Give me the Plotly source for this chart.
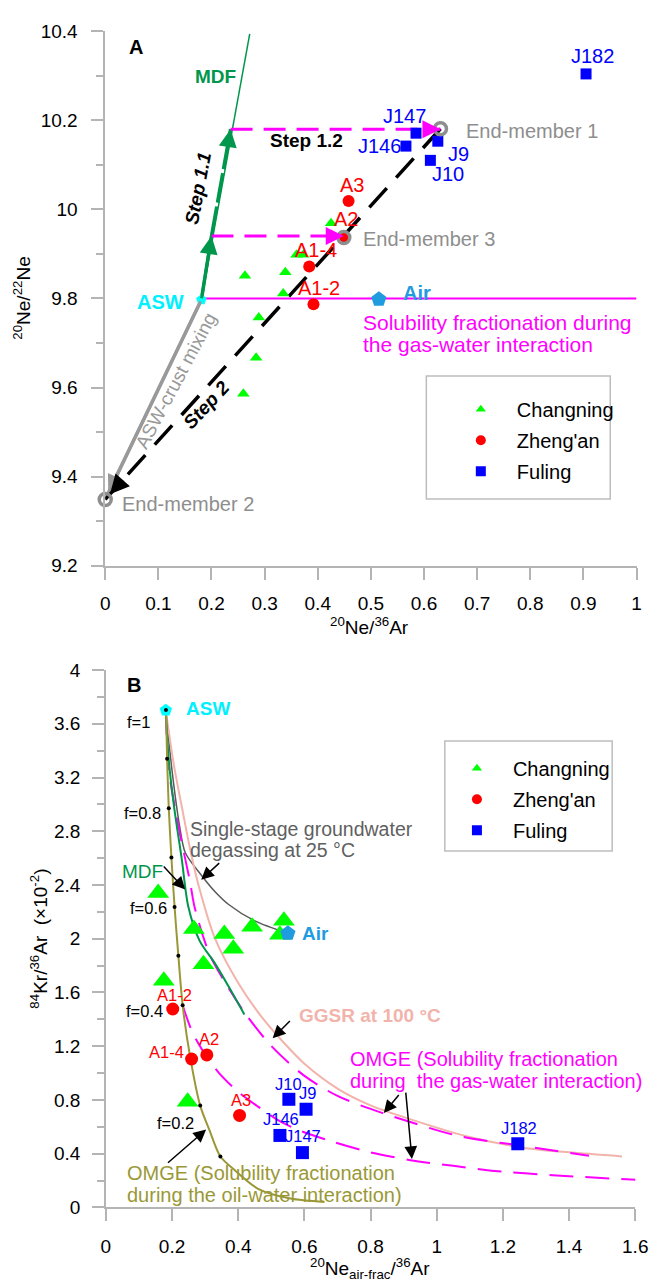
import plotly.graph_objects as go

# ===================== Panel A data (20Ne/22Ne vs 20Ne/36Ar) =====================
A_CN_X = [0.263, 0.339, 0.335, 0.289, 0.425, 0.360, 0.373, 0.284, 0.260]
A_CN_Y = [9.851, 9.859, 9.811, 9.757, 9.969, 9.898, 9.898, 9.667, 9.586]
A_ZA_LBL = ["A3", "A2", "A1-4", "A1-2"]
A_ZA_X = [0.458, 0.449, 0.384, 0.392]
A_ZA_Y = [10.019, 9.937, 9.872, 9.787]
A_FL_LBL = ["J182", "J147", "J146", "J9", "J10"]
A_FL_X = [0.905, 0.585, 0.566, 0.626, 0.612]
A_FL_Y = [10.304, 10.171, 10.142, 10.153, 10.110]
A_ASW_X, A_ASW_Y = [0.181], [9.797]
A_AIR_X, A_AIR_Y = [0.515], [9.798]
A_EM_LBL = ["End-member 1", "End-member 2", "End-member 3"]
A_EM_X = [0.631, 0.000, 0.449]
A_EM_Y = [10.181, 9.349, 9.937]
A_MDF_X = [0.181, 0.272]
A_MDF_Y = [9.797, 10.394]
A_SOL_X = [0.181, 1.0]
A_SOL_Y = [9.80, 9.80]
A_STEP11_X = [0.181, 0.200, 0.236]
A_STEP11_Y = [9.797, 9.940, 10.180]

# ===================== Panel B data (84Kr/36Ar vs 20Ne_air-frac/36Ar) =====================
B_CN_X = [0.158, 0.266, 0.358, 0.385, 0.442, 0.538, 0.526, 0.295, 0.175, 0.247]
B_CN_Y = [2.341, 2.072, 2.035, 1.925, 2.089, 2.133, 2.030, 1.810, 1.688, 0.787]
B_ZA_LBL = ["A1-2", "A1-4", "A2", "A3"]
B_ZA_X = [0.202, 0.259, 0.305, 0.404]
B_ZA_Y = [1.477, 1.105, 1.135, 0.685]
B_FL_LBL = ["J10", "J9", "J146", "J147", "J182"]
B_FL_X = [0.553, 0.605, 0.526, 0.594, 1.245]
B_FL_Y = [0.805, 0.731, 0.536, 0.408, 0.474]
B_ASW_X, B_ASW_Y = [0.181], [3.70]
B_AIR_X, B_AIR_Y = [0.55], [2.04]

# OMGE oil-water curve and f markers
B_OIL_X = [0.1815, 0.185, 0.190, 0.198, 0.2076, 0.219, 0.232, 0.254, 0.285, 0.313, 0.346, 0.391, 0.46, 0.558, 0.661]
B_OIL_Y = [3.703, 3.339, 2.972, 2.605, 2.236, 1.874, 1.505, 1.130, 0.758, 0.575, 0.379, 0.274, 0.139, 0.066, 0.041]
B_F_VAL = [1.0, 0.9, 0.8, 0.7, 0.6, 0.5, 0.4, 0.3, 0.2, 0.1]
B_F_X = [0.1815, 0.185, 0.190, 0.198, 0.2076, 0.219, 0.232, 0.254, 0.285, 0.346]
B_F_Y = [3.703, 3.339, 2.972, 2.605, 2.236, 1.874, 1.505, 1.130, 0.758, 0.379]
B_F_LBL = ["f=1", "", "f=0.8", "", "f=0.6", "", "f=0.4", "", "f=0.2", ""]

# MDF
B_MDF_X = [0.181, 0.19, 0.207, 0.229, 0.249, 0.283, 0.330, 0.371, 0.4185]
B_MDF_Y = [3.70, 3.33, 2.965, 2.598, 2.24, 1.986, 1.815, 1.644, 1.436]
# GGSR at 100 C
B_GGSR_X = [0.181, 0.205, 0.232, 0.256, 0.282, 0.33, 0.40, 0.47, 0.54, 0.60, 0.70, 0.80, 0.91, 1.09, 1.26, 1.40, 1.56]
B_GGSR_Y = [3.70, 3.30, 2.95, 2.65, 2.38, 2.00, 1.67, 1.42, 1.22, 1.07, 0.885, 0.76, 0.665, 0.53, 0.445, 0.41, 0.38]
# OMGE gas-water (stage from ASW)
B_GW1_X = [0.181, 0.19, 0.219, 0.254, 0.2685, 0.3126, 0.362, 0.42, 0.499, 0.597, 0.70, 0.837, 1.068, 1.264, 1.46]
B_GW1_Y = [3.70, 3.26, 2.84, 2.427, 2.231, 1.888, 1.668, 1.448, 1.204, 0.985, 0.83, 0.702, 0.531, 0.457, 0.384]
# OMGE gas-water (stage from f=0.4 of oil-water)
B_GW2_X = [0.232, 0.262, 0.305, 0.342, 0.40, 0.46, 0.52, 0.578, 0.685, 0.80, 0.92, 1.05, 1.166, 1.35, 1.607]
B_GW2_Y = [1.505, 1.30, 1.12, 1.00, 0.86, 0.75, 0.65, 0.58, 0.49, 0.41, 0.352, 0.31, 0.274, 0.24, 0.205]
# Single-stage groundwater degassing at 25 C
B_SS_X = [0.181, 0.20, 0.222, 0.240, 0.288, 0.33, 0.371, 0.45, 0.55]
B_SS_Y = [3.70, 3.25, 2.85, 2.64, 2.475, 2.35, 2.255, 2.133, 2.04]

# ===================== styling =====================
W, H = 668, 1287
FONT = "Liberation Sans, Arial, sans-serif"
GREEN = "#00964B"
MAG = "#FF00FF"
PINK = "#F2B3AB"
OLIVE = "#9A9836"
DGRAY = "#5A5A5A"
EMGRAY = "#8E8E8E"
CYAN = "#00F0FF"
AIRBLUE = "#1F9BDF"
TRI = "#00FF00"
RED = "#FF0000"
BLUE = "#0000FF"
AXC = "#B4B4B4"


def px_x(p):
    return p / W


def px_y(p):
    return 1 - p / H


fig = go.Figure()


def line(x, y, color, width, xa, ya, dash=None, shape="linear", smooth=None):
    ld = dict(color=color, width=width, shape=shape)
    if dash:
        ld["dash"] = dash
    if smooth is not None:
        ld["smoothing"] = smooth
    fig.add_trace(go.Scatter(x=x, y=y, mode="lines", line=ld, xaxis=xa, yaxis=ya,
                             showlegend=False, hoverinfo="skip"))


def pts(x, y, symbol, size, color, xa, ya, lw=0, lc=None):
    fig.add_trace(go.Scatter(x=x, y=y, mode="markers",
                             marker=dict(symbol=symbol, size=size, color=color,
                                         line=dict(width=lw, color=lc or color)),
                             xaxis=xa, yaxis=ya, showlegend=False, hoverinfo="skip",
                             cliponaxis=False))


# ---------------- Panel A ----------------
line(A_MDF_X, A_MDF_Y, GREEN, 1.5, "x", "y")
line(A_SOL_X, A_SOL_Y, MAG, 2, "x", "y")
line([A_ASW_X[0], A_EM_X[1]], [A_ASW_Y[0], A_EM_Y[1]], "#999999", 3.5, "x", "y")
line([A_EM_X[0], A_EM_X[1]], [A_EM_Y[0], A_EM_Y[1]], "black", 3.5, "x", "y", dash="26px,14px")
line(A_STEP11_X[:2], A_STEP11_Y[:2], GREEN, 3.5, "x", "y")
line(A_STEP11_X[1:], A_STEP11_Y[1:], GREEN, 3.5, "x", "y", dash="30px,4px")
line([A_STEP11_X[1], A_EM_X[2], None, A_STEP11_X[2], A_EM_X[0]],
     [A_STEP11_Y[1], A_STEP11_Y[1], None, A_STEP11_Y[2], A_STEP11_Y[2]], MAG, 3, "x", "y",
     dash="22px,11px")

pts(A_ASW_X, A_ASW_Y, "pentagon", 11, "#00FFFF", "x", "y")
pts(A_AIR_X, A_AIR_Y, "pentagon", 16, AIRBLUE, "x", "y")
pts(A_CN_X, A_CN_Y, "triangle-up", 11, TRI, "x", "y")
pts(A_ZA_X, A_ZA_Y, "circle", 12, RED, "x", "y")
pts(A_FL_X, A_FL_Y, "square", 11, BLUE, "x", "y")
pts(A_EM_X, A_EM_Y, "circle-open", 12, EMGRAY, "x", "y", lw=3.5)

# ---------------- Panel B ----------------
line(B_SS_X, B_SS_Y, DGRAY, 1.5, "x2", "y2", shape="spline", smooth=0.8)
line(B_GGSR_X, B_GGSR_Y, PINK, 2, "x2", "y2", shape="spline", smooth=0.8)
line(B_GW1_X, B_GW1_Y, MAG, 2, "x2", "y2", dash="24px,12px", shape="spline", smooth=0.8)
line(B_GW2_X, B_GW2_Y, MAG, 2, "x2", "y2", dash="24px,12px", shape="spline", smooth=0.8)
line(B_MDF_X, B_MDF_Y, GREEN, 2, "x2", "y2", shape="spline", smooth=0.8)
line(B_OIL_X, B_OIL_Y, OLIVE, 2, "x2", "y2", shape="spline", smooth=0.8)
pts(B_F_X, B_F_Y, "circle", 4, "black", "x2", "y2")

pts(B_CN_X, B_CN_Y, "triangle-up", 19, TRI, "x2", "y2")
pts(B_ZA_X, B_ZA_Y, "circle", 13, RED, "x2", "y2")
pts(B_FL_X, B_FL_Y, "square", 13, BLUE, "x2", "y2")
pts(B_ASW_X, B_ASW_Y, "pentagon", 13, "#00FFFF", "x2", "y2")
pts(B_AIR_X, B_AIR_Y, "pentagon", 16, AIRBLUE, "x2", "y2")
pts(B_F_X[:1], B_F_Y[:1], "circle", 4, "black", "x2", "y2")

# ---------------- legends (legend-only entries) ----------------
for lg in ("legend", "legend2"):
    for name, sym, col, sz in (("Changning", "triangle-up", TRI, 9),
                               ("Zheng'an", "circle", RED, 10),
                               ("Fuling", "square", BLUE, 10)):
        fig.add_trace(go.Scatter(x=[None], y=[None], mode="markers", name=name,
                                 marker=dict(symbol=sym, size=sz, color=col),
                                 legend=lg, legendgroup=lg + name, showlegend=True))

# ---------------- annotations ----------------
ann = []


def text(x, y, t, size=20, color="black", bold=False, italic=False, xanchor="center", angle=0,
         xref="paper", yref="paper", xshift=0, yshift=0):
    if italic:
        t = "<i>" + t + "</i>"
    if bold:
        t = "<b>" + t + "</b>"
    ann.append(dict(x=x, y=y, xref=xref, yref=yref, text=t, showarrow=False,
                    xanchor=xanchor, yanchor="middle", textangle=angle,
                    xshift=xshift, yshift=yshift,
                    font=dict(family=FONT, size=size, color=color)))


def arrow(x, y, ax, ay, xr, yr, color="black", width=1.5, size=1.7, standoff=0):
    ann.append(dict(x=x, y=y, ax=ax, ay=ay, xref=xr, yref=yr, axref=xr, ayref=yr,
                    text="", showarrow=True, arrowhead=2, arrowsize=size,
                    arrowwidth=width, arrowcolor=color, standoff=standoff))


# Panel A labels
for lbl, x, y, dx, dy in zip(A_FL_LBL, A_FL_X, A_FL_Y,
                              [6, -12, -26, 21, 18], [18, 17, 0, -13, -14]):
    text(x, y, lbl, 20, BLUE, xref="x", yref="y", xshift=dx, yshift=dy)
for lbl, x, y, dx, dy in zip(A_ZA_LBL, A_ZA_X, A_ZA_Y, [3, 2, 7, 6], [16, 18, 16, 16]):
    text(x, y, lbl, 20, RED, xref="x", yref="y", xshift=dx, yshift=dy)
for lbl, x, y, dx, dy in zip(A_EM_LBL, A_EM_X, A_EM_Y, [24, 15, 17], [-2, -5, -2]):
    text(x, y, lbl, 20, EMGRAY, xanchor="left", xref="x", yref="y", xshift=dx, yshift=dy)
text(A_ASW_X[0], A_ASW_Y[0], "ASW", 20, CYAN, bold=True, xanchor="right", xref="x", yref="y",
     xshift=-15, yshift=-2)
text(A_AIR_X[0], A_AIR_Y[0], "Air", 20, AIRBLUE, bold=True, xanchor="left", xref="x", yref="y",
     xshift=22, yshift=6)

text(px_x(134.7), px_y(37.5), "A", 20, bold=True)
text(px_x(216), px_y(67.5), "MDF", 19, GREEN, bold=True)
text(px_x(198), px_y(181), "Step 1.1", 19, bold=True, italic=True, angle=-79.5)
text(px_x(310), px_y(133), "Step 1.2", 19, bold=True)
text(px_x(207.5), px_y(401.5), "Step 2", 19, bold=True, italic=True, angle=-47)
text(px_x(176), px_y(377), "ASW-crust mixing", 19, "#999999", angle=-62)
text(px_x(366), px_y(318), "Solubility fractionation during", 21, MAG, xanchor="left")
text(px_x(366), px_y(340), "the gas-water interaction", 21, MAG, xanchor="left")
text(px_x(375), px_y(626), "<sup>20</sup>Ne/<sup>36</sup>Ar", 19)
text(px_x(18), px_y(293), "<sup>20</sup>Ne/<sup>22</sup>Ne", 19, angle=-90)

# Panel A arrows
arrow(A_STEP11_X[1], A_STEP11_Y[1], A_STEP11_X[0], A_STEP11_Y[0], "x", "y", GREEN, 3, 1.2)
arrow(A_STEP11_X[2], A_STEP11_Y[2],
      A_STEP11_X[2] - 0.004, A_STEP11_Y[2] - 0.03, "x", "y", GREEN, 3, 1.2)
arrow(A_EM_X[2], A_STEP11_Y[1], A_EM_X[2] - 0.03, A_STEP11_Y[1], "x", "y", MAG, 3, 1.2)
arrow(A_EM_X[0], A_STEP11_Y[2], A_EM_X[0] - 0.03, A_STEP11_Y[2], "x", "y", MAG, 3, 1.2)
arrow(A_EM_X[1], A_EM_Y[1], A_ASW_X[0], A_ASW_Y[0], "x", "y", "#999999", 3, 1.2, standoff=7)
arrow(A_EM_X[1], A_EM_Y[1], A_EM_X[1] + 0.03, A_EM_Y[1] + 0.04, "x", "y", "black", 3.5, 1.1,
      standoff=7)

# Panel B labels
for lbl, x, y, dx, dy in zip(B_FL_LBL, B_FL_X, B_FL_Y, [0, 1, 1, 1, 1], [15, 16, 16, 17, 16]):
    text(x, y, lbl, 16.5, BLUE, xref="x2", yref="y2", xshift=dx, yshift=dy)
for lbl, x, y, dx, dy in zip(B_ZA_LBL, B_ZA_X, B_ZA_Y, [2, -25, 2, 1], [14, 7, 16, 15]):
    text(x, y, lbl, 16.5, RED, xref="x2", yref="y2", xshift=dx, yshift=dy)
f_shift = {"f=1": (-14, -11.6), "f=0.8": (-6, -4.4), "f=0.6": (-6, -0.6),
           "f=0.4": (-17.7, -6), "f=0.2": (-4, -17.7)}
for lbl, x, y in zip(B_F_LBL, B_F_X, B_F_Y):
    if lbl:
        dx, dy = f_shift[lbl]
        text(x, y, lbl, 16.5, "black", xanchor="right", xref="x2", yref="y2",
             xshift=dx, yshift=dy)
text(B_ASW_X[0], B_ASW_Y[0], "ASW", 19, CYAN, bold=True, xanchor="left", xref="x2", yref="y2",
     xshift=18, yshift=2)
text(B_AIR_X[0], B_AIR_Y[0], "Air", 19, AIRBLUE, bold=True, xanchor="left", xref="x2",
     yref="y2", xshift=12, yshift=0)

text(px_x(133), px_y(686), "B", 20, bold=True)
text(px_x(118), px_y(876), "MDF", 19, GREEN, xanchor="left")
text(px_x(188), px_y(833), "Single-stage groundwater", 19.5, "#606060", xanchor="left")
text(px_x(188), px_y(854), "degassing at 25 °C", 19.5, "#606060", xanchor="left")
text(px_x(300), px_y(1021.7), "GGSR at 100 °C", 19, PINK, bold=True, xanchor="left")
text(px_x(352), px_y(1066.5), "OMGE (Solubility fractionation", 20, MAG, xanchor="left")
text(px_x(352), px_y(1088.5), "during&nbsp; the gas-water interaction)", 20, MAG, xanchor="left")
text(px_x(123), px_y(1182.5), "OMGE (Solubility fractionation", 20, OLIVE, xanchor="left")
text(px_x(123), px_y(1205), "during the oil-water interaction)", 20, OLIVE, xanchor="left")
text(px_x(375), px_y(1279), "<sup>20</sup>Ne<sub>air-frac</sub>/<sup>36</sup>Ar", 19)
text(px_x(35), px_y(944), "<sup>84</sup>Kr/<sup>36</sup>Ar  (×10<sup>-2</sup>)", 19, angle=-90)

# Panel B arrows (head, tail)
B_ARROW_HEAD = [(0.2397, 2.366), (0.288, 2.439), (0.504, 1.259), (0.84, 0.702), (0.925, 0.36),
                (0.303, 0.58)]
B_ARROW_TAIL = [(0.1706, 2.549), (0.347, 2.573), (0.5606, 1.399), (0.889, 0.848), (0.906, 0.866),
                (0.183, 0.323)]
for (hx, hy), (tx, ty) in zip(B_ARROW_HEAD, B_ARROW_TAIL):
    arrow(hx, hy, tx, ty, "x2", "y2", "black", 1.5, 1.7)

# legend frames
shapes = [
    dict(type="rect", xref="paper", yref="paper", x0=px_x(433), x1=px_x(622),
         y0=px_y(497), y1=px_y(372), line=dict(color="#BDBDBD", width=1.5)),
    dict(type="rect", xref="paper", yref="paper", x0=px_x(452), x1=px_x(624),
         y0=px_y(855), y1=px_y(743), line=dict(color="#BDBDBD", width=1.5)),
]

axis_common = dict(showline=True, linecolor=AXC, linewidth=1.5, ticks="outside", ticklen=12,
                   tickwidth=1.5, tickcolor=AXC, showgrid=False, zeroline=False, mirror=False,
                   tickfont=dict(family=FONT, size=19, color="black"), fixedrange=True)

fig.update_layout(
    width=W, height=H, margin=dict(l=0, r=0, t=0, b=0),
    paper_bgcolor="white", plot_bgcolor="white",
    font=dict(family=FONT, color="black"),
    xaxis=dict(axis_common, domain=[px_x(103), px_x(649)], range=[0, 1], tick0=0, dtick=0.1,
               anchor="y", ticklabelstandoff=8),
    yaxis=dict(axis_common, domain=[px_y(565), px_y(21.5)], range=[9.2, 10.4], tick0=9.2,
               dtick=0.2, anchor="x", ticklabelstandoff=10,
               minor=dict(dtick=0.1, ticks="outside", ticklen=7, tickwidth=1.5, tickcolor=AXC)),
    xaxis2=dict(axis_common, domain=[px_x(103.7), px_x(647.7)], range=[0, 1.6], tick0=0,
                dtick=0.2, anchor="y2", ticklabelstandoff=9),
    yaxis2=dict(axis_common, domain=[px_y(1217.3), px_y(671)], range=[0, 4], tick0=0, dtick=0.4,
                anchor="x2", ticklabelstandoff=8,
                minor=dict(dtick=0.2, ticks="outside", ticklen=7, tickwidth=1.5, tickcolor=AXC)),
    legend=dict(x=px_x(452), y=px_y(386), xanchor="left", yanchor="top", bgcolor="rgba(0,0,0,0)",
                borderwidth=0, font=dict(family=FONT, size=20, color="black"), itemwidth=62,
                tracegroupgap=2),
    legend2=dict(x=px_x(448), y=px_y(751), xanchor="left", yanchor="top",
                 bgcolor="rgba(0,0,0,0)", borderwidth=0,
                 font=dict(family=FONT, size=20, color="black"), itemwidth=62, tracegroupgap=2),
    annotations=ann, shapes=shapes, showlegend=True,
)

fig.write_html("out.html")
